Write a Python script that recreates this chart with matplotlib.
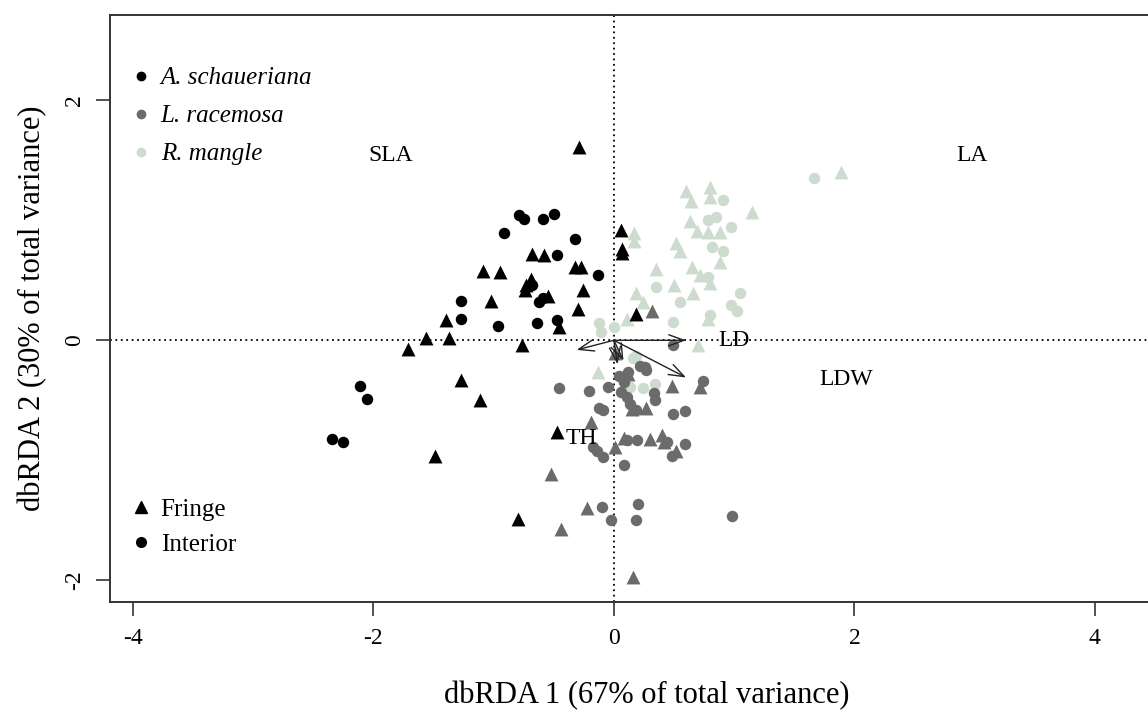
import matplotlib
matplotlib.use("Agg")
import matplotlib.pyplot as plt
from matplotlib.lines import Line2D

plt.rcParams['font.family'] = ['Liberation Serif', 'DejaVu Serif']
plt.rcParams['axes.unicode_minus'] = False

# A. schaueriana
as_fringe_x = [-0.29, -0.68, -0.58, -1.09, -0.95, -0.32, -0.27, -1.02, -0.26, -0.30, -1.40, -1.56, -1.37,
               -1.71, -0.76, -0.46, -0.69, -0.73, -0.74, -0.55, 0.06, 0.07, 0.07, 0.18, -1.27, -1.11,
               -1.49, -0.47, -0.80]
as_fringe_y = [1.61, 0.72, 0.71, 0.58, 0.57, 0.61, 0.61, 0.33, 0.42, 0.26, 0.17, 0.02, 0.02,
               -0.07, -0.04, 0.11, 0.51, 0.46, 0.42, 0.37, 0.92, 0.76, 0.73, 0.22, -0.33, -0.50,
               -0.96, -0.76, -1.49]
as_interior_x = [-0.79, -0.75, -0.59, -0.50, -0.91, -0.32, -0.47, -0.13, -1.27, -1.27, -0.96, -0.64,
                 -0.47, -0.62, -0.59, -0.68, -2.11, -2.05, -2.34, -2.25]
as_interior_y = [1.04, 1.01, 1.01, 1.05, 0.89, 0.84, 0.71, 0.54, 0.33, 0.18, 0.12, 0.14,
                 0.17, 0.32, 0.35, 0.46, -0.38, -0.49, -0.82, -0.85]

# L. racemosa
lr_fringe_x = [0.32, 0.01, 0.12, 0.15, 0.27, 0.48, 0.72, 0.08, 0.30, 0.40, 0.42, 0.52, 0.01, -0.19,
               -0.52, -0.22, -0.44, 0.16]
lr_fringe_y = [0.24, -0.11, -0.28, -0.57, -0.56, -0.38, -0.39, -0.81, -0.82, -0.79, -0.85, -0.92,
               -0.89, -0.68, -1.11, -1.40, -1.57, -1.97]
lr_interior_x = [-0.46, -0.21, -0.05, -0.12, -0.09, 0.22, 0.27, 0.12, 0.26, 0.33, 0.34, 0.11, 0.06,
                 0.13, 0.18, 0.49, 0.59, 0.74, 0.49, 0.19, 0.11, 0.44, 0.59, 0.48, -0.09, -0.14,
                 -0.17, 0.08, -0.10, -0.02, 0.18, 0.20, 0.98, 0.04, 0.08]
lr_interior_y = [-0.40, -0.42, -0.39, -0.56, -0.58, -0.21, -0.25, -0.26, -0.22, -0.44, -0.50, -0.47,
                 -0.43, -0.53, -0.58, -0.61, -0.59, -0.34, -0.04, -0.83, -0.83, -0.85, -0.86, -0.96,
                 -0.97, -0.92, -0.89, -1.04, -1.39, -1.50, -1.50, -1.36, -1.46, -0.30, -0.35]

# R. mangle
rm_fringe_x = [1.89, 0.60, 0.64, 0.80, 0.80, 1.15, 0.63, 0.69, 0.78, 0.88, 0.52, 0.55, 0.88, 0.35,
               0.50, 0.65, 0.72, 0.80, 0.66, 0.18, 0.24, 0.11, 0.78, 0.70, 0.17, 0.17, -0.13]
rm_fringe_y = [1.40, 1.24, 1.16, 1.28, 1.19, 1.07, 0.99, 0.91, 0.90, 0.90, 0.81, 0.74, 0.65, 0.59,
               0.46, 0.61, 0.54, 0.48, 0.39, 0.39, 0.32, 0.18, 0.18, -0.04, 0.89, 0.83, -0.26]
rm_interior_x = [1.66, 0.91, 0.78, 0.85, 0.97, 0.82, 0.91, 0.35, 0.78, 0.55, 1.05, 0.97, 1.02, 0.80,
                 0.49, 0.00, -0.12, -0.11, 0.16, 0.13, 0.24, 0.34, 0.18]
rm_interior_y = [1.35, 1.17, 1.00, 1.03, 0.94, 0.78, 0.74, 0.44, 0.53, 0.32, 0.39, 0.29, 0.24, 0.21,
                 0.15, 0.11, 0.14, 0.07, -0.15, -0.39, -0.40, -0.36, -0.13]

# biplot vectors
var_names = ['LA', 'LD', 'LDW', 'SLA', 'TH']
arrow_x = [0.08, 0.60, 0.60, -0.31, 0.03]
arrow_y = [-0.17, 0.00, -0.31, -0.08, -0.20]
label_x = [2.98, 1.00, 1.93, -1.86, -0.27]
label_y = [1.54, 0.00, -0.33, 1.54, -0.82]

col_as = '#000000'
col_lr = '#6b6b6b'
col_rm = '#cddccf'

fig = plt.figure(figsize=(11.48, 7.13), dpi=100)
# the plot region runs on past the right edge of the picture
ax = fig.add_axes([0.0958, 0.1557, 0.9355, 0.8233])

ax.axhline(0, color='black', linestyle=(0, (1, 2)), linewidth=1.3, zorder=1)
ax.axvline(0, color='black', linestyle=(0, (1, 2)), linewidth=1.3, zorder=1)

tri = 100
cir = 68
ax.scatter(rm_fringe_x, rm_fringe_y, marker='^', s=tri, color=col_rm, linewidths=0, zorder=2)
ax.scatter(rm_interior_x, rm_interior_y, marker='o', s=cir, color=col_rm, linewidths=0, zorder=2)
ax.scatter(lr_fringe_x, lr_fringe_y, marker='^', s=tri, color=col_lr, linewidths=0, zorder=3)
ax.scatter(lr_interior_x, lr_interior_y, marker='o', s=cir, color=col_lr, linewidths=0, zorder=3)
ax.scatter(as_fringe_x, as_fringe_y, marker='^', s=tri, color=col_as, linewidths=0, zorder=4)
ax.scatter(as_interior_x, as_interior_y, marker='o', s=cir, color=col_as, linewidths=0, zorder=4)

for i in range(len(var_names)):
    ax.annotate('', xy=(arrow_x[i], arrow_y[i]), xytext=(0, 0),
                arrowprops=dict(arrowstyle='->,head_length=1.1,head_width=0.4',
                                color='#222222', lw=1.0, shrinkA=0, shrinkB=0), zorder=5)
    ax.text(label_x[i], label_y[i], var_names[i], fontsize=17, ha='center', va='center', zorder=6)

ax.set_xlim(-4.19, 4.74)
ax.set_ylim(-2.18, 2.71)
ax.set_xticks([-4, -2, 0, 2, 4])
ax.set_yticks([-2, 0, 2])
ax.tick_params(axis='both', length=10, width=1.2, labelsize=17, color='#333333')
ax.tick_params(axis='x', pad=9)
ax.tick_params(axis='y', pad=8)
for lab in ax.get_yticklabels():
    lab.set_rotation(90)
    lab.set_va('center')

ax.spines['right'].set_visible(False)
for side in ['left', 'bottom', 'top']:
    ax.spines[side].set_linewidth(1.4)
    ax.spines[side].set_color('#333333')

ax.set_xlabel('dbRDA 1 (67% of total variance)', fontsize=22, labelpad=23)
ax.set_ylabel('dbRDA 2 (30% of total variance)', fontsize=22, labelpad=12)

sp_handles = [Line2D([], [], marker='o', linestyle='', color=c, markersize=6)
              for c in [col_as, col_lr, col_rm]]
leg1 = ax.legend(sp_handles, ['A. schaueriana', 'L. racemosa', 'R. mangle'],
                 loc='upper left', bbox_to_anchor=(-0.004, 0.95), frameon=False,
                 prop={'style': 'italic', 'size': 18}, handletextpad=0.3,
                 labelspacing=0.62, handlelength=1.0)
ax.add_artist(leg1)

hab_handles = [Line2D([], [], marker='^', linestyle='', color='black', markersize=8),
               Line2D([], [], marker='o', linestyle='', color='black', markersize=7)]
ax.legend(hab_handles, ['Fringe', 'Interior'], loc='upper left', bbox_to_anchor=(-0.004, 0.215),
          frameon=False, prop={'size': 18}, handletextpad=0.3, labelspacing=0.5,
          handlelength=1.0)

fig.savefig('out.png', dpi=100)
